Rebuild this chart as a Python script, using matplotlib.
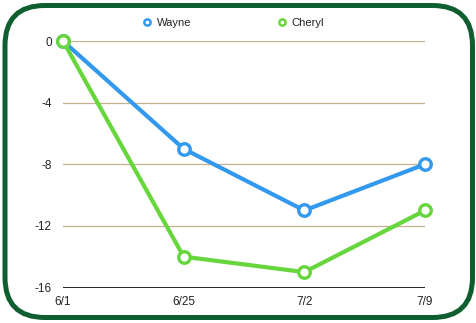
import matplotlib
matplotlib.use("Agg")
import matplotlib.pyplot as plt
from matplotlib.patches import FancyBboxPatch
from matplotlib.lines import Line2D

plt.rcParams["font.family"] = ["Liberation Sans", "DejaVu Sans"]

dates = ["6/1", "6/25", "7/2", "7/9"]
wayne = [0, -7, -11, -8]
cheryl = [0, -14, -15, -11]
yticks = [0, -4, -8, -12, -16]

W, H = 477, 323
fig = plt.figure(figsize=(W / 100, H / 100), dpi=100)
fig.patch.set_facecolor("white")

# background / border axes in pixel coords
bg = fig.add_axes([0, 0, 1, 1])
bg.set_xlim(0, W)
bg.set_ylim(H, 0)
bg.axis("off")
bg.add_patch(FancyBboxPatch((5, 5.5), 467.5, 312, boxstyle="round,pad=0,rounding_size=40",
                            facecolor="white", edgecolor="#0f5e30", linewidth=3.6))

blue = "#3399ee"
green = "#66d63c"

left, right = 63 / W, 425 / W
top, bottom = 1 - 41 / H, 1 - 287.5 / H
ax = fig.add_axes([left, bottom, right - left, top - bottom])
ax.set_facecolor("none")
x = list(range(len(dates)))
ax.set_xlim(0, len(dates) - 1)
ax.set_ylim(-16, 0)

for yv in yticks[:-1]:
    ax.axhline(yv, color="#c4b08f", linewidth=0.9, zorder=1)
ax.axhline(-16, color="black", linewidth=1.2, zorder=1)

for vals, col in [(wayne, blue), (cheryl, green)]:
    ax.plot(x, vals, color=col, linewidth=3.0, marker="o", markersize=8.3,
            markerfacecolor="white", markeredgecolor=col, markeredgewidth=2.4,
            clip_on=False, zorder=3, solid_capstyle="round")

for s in ax.spines.values():
    s.set_visible(False)
ax.set_xticks(x)
ax.set_xticklabels(dates, fontsize=8.5, color="#222222")
ax.set_yticks(yticks)
ax.set_yticklabels([str(v) for v in yticks], fontsize=8.5, color="#222222")
ax.tick_params(axis="both", length=0)
ax.tick_params(axis="x", pad=6)
ax.tick_params(axis="y", pad=8)

handles = [Line2D([], [], color=c, linestyle="none", marker="o", markersize=4.5,
                  markerfacecolor="white", markeredgecolor=c, markeredgewidth=1.8)
           for c in (blue, green)]
fig.legend(handles, ["Wayne", "Cheryl"], loc="center", bbox_to_anchor=(0.487, 1 - 23 / H),
           ncol=2, frameon=False, fontsize=8, columnspacing=7.6, handletextpad=0.25,
           handlelength=1.2, labelcolor="#222222")

fig.savefig("out.png", dpi=100)
